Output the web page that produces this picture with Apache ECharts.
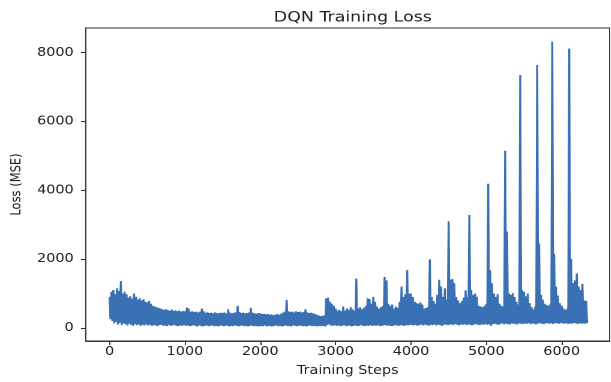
<!DOCTYPE html>
<html>
<head>
<meta charset="utf-8">
<script src="https://cdn.jsdelivr.net/npm/echarts@6/dist/echarts.min.js"></script>
<style>
  html, body { margin: 0; padding: 0; background: #fff; overflow: hidden; }
  /* the reference is a 640x480 figure squeezed to 611x382, so draw narrow and stretch */
  #main { width: 509px; height: 382px; transform: scaleX(1.2); transform-origin: 0 0; }
</style>
</head>
<body>
<div id="main"></div>
<script>
var STEP = 25;   // one high/low pair every 25 training steps

// upper edge of the loss band, steps 0, 25, 50 ... 6325
var lossHigh = [
    900, 1050, 1100, 980, 1150, 1080, 1360, 1000, 1050, 980, 880, 920, 850, 1000, 900, 820, 860, 800, 830, 760,
    740, 780, 700, 640, 620, 600, 580, 560, 540, 520, 540, 510, 500, 530, 490, 510, 480, 500, 470, 490,
    480, 590, 560, 470, 480, 460, 470, 450, 470, 560, 480, 440, 450, 430, 440, 420, 450, 430, 420, 440,
    430, 450, 420, 540, 440, 420, 440, 450, 640, 460, 430, 440, 420, 430, 450, 580, 440, 420, 410, 430,
    420, 400, 410, 390, 400, 380, 390, 370, 380, 400, 380, 410, 440, 470, 815, 480, 460, 470, 450, 480,
    460, 470, 450, 460, 540, 450, 430, 440, 420, 410, 380, 360, 340, 350, 360, 860, 880, 760, 700, 640,
    560, 500, 520, 480, 620, 500, 560, 520, 600, 540, 500, 1430, 560, 600, 540, 580, 640, 860, 840, 700,
    900, 760, 620, 560, 600, 640, 1480, 1380, 700, 640, 680, 560, 620, 580, 760, 1200, 900, 980, 1680, 1000,
    1000, 900, 760, 720, 700, 740, 680, 560, 580, 600, 1990, 900, 780, 700, 960, 1400, 1200, 900, 1150, 820,
    3100, 1400, 1420, 1300, 900, 800, 720, 780, 880, 1090, 900, 3280, 1100, 960, 1000, 900, 640, 620, 600, 640,
    700, 4190, 1680, 1300, 1000, 900, 980, 700, 640, 620, 5150, 2800, 1000, 960, 1010, 900, 760, 680, 7350, 1100,
    1050, 920, 1000, 720, 600, 540, 620, 7640, 2450, 960, 820, 700, 660, 640, 700, 8320, 2150, 1200, 940, 720,
    640, 560, 520, 560, 8120, 2000, 1300, 1380, 1580, 1200, 1100, 1280, 800, 780
];

// lower edge of the band, half a step after each high value
var lossLow = [
    250, 200, 130, 170, 100, 150, 80, 130, 110, 70, 120, 90, 60, 110, 80, 100, 60, 90, 70, 100,
    70, 90, 60, 80, 70, 50, 80, 90, 60, 70, 50, 80, 60, 70, 90, 60, 50, 70, 60, 80,
    60, 70, 50, 60, 80, 60, 40, 70, 60, 40, 60, 70, 50, 60, 70, 50, 60, 40, 60, 70,
    50, 60, 70, 40, 60, 50, 70, 60, 40, 60, 70, 50, 60, 40, 60, 70, 50, 60, 50, 40,
    60, 50, 70, 40, 60, 50, 40, 60, 70, 50, 60, 40, 60, 70, 50, 60, 40, 70, 60, 50,
    60, 70, 50, 60, 40, 60, 70, 50, 60, 50, 40, 60, 50, 60, 40, 80, 100, 70, 60, 80,
    60, 70, 50, 60, 80, 50, 60, 70, 40, 60, 70, 50, 60, 80, 60, 50, 70, 60, 80, 60,
    70, 60, 80, 50, 60, 70, 80, 60, 70, 50, 60, 80, 70, 60, 80, 70, 60, 80, 70, 90,
    80, 70, 90, 60, 80, 100, 70, 90, 80, 60, 90, 80, 100, 70, 90, 80, 60, 90, 100, 80,
    90, 100, 80, 110, 90, 70, 100, 90, 110, 80, 100, 90, 70, 100, 110, 90, 80, 100, 90, 110,
    90, 100, 60, 110, 120, 100, 90, 110, 130, 100, 120, 110, 100, 130, 120, 110, 100, 130, 120, 110,
    130, 120, 140, 110, 130, 120, 100, 130, 140, 120, 110, 130, 140, 120, 130, 110, 140, 130, 120, 140,
    130, 120, 140, 110, 130, 120, 140, 130, 110, 140, 120, 130, 120, 140
];

var xTicks = [0, 1000, 2000, 3000, 4000, 5000, 6000];
var yTicks = [0, 2000, 4000, 6000, 8000];

var lineColor = '#3a71b5';
var inkColor = '#222';
var fontName = 'DejaVu Sans';

var lossData = [];
for (var i = 0; i < lossHigh.length; i++) {
    lossData.push([i * STEP, lossHigh[i]]);
    lossData.push([i * STEP + 12, lossLow[i]]);
}

function plainNum(v) {
    return String(v);
}

var chart = echarts.init(document.getElementById('main'), null, {devicePixelRatio: 2});

var option = {
    animation: false,
    backgroundColor: '#fff',
    title: {
        text: 'DQN Training Loss',
        left: 289,
        textAlign: 'center',
        top: 5,
        textStyle: {fontFamily: fontName, fontSize: 14.5, fontWeight: 'normal', color: inkColor}
    },
    grid: {
        left: 70, right: 1, top: 28, bottom: 37,
        show: true, borderColor: '#333', borderWidth: 1, backgroundColor: 'transparent'
    },
    xAxis: {
        type: 'value',
        min: -316,
        max: 6636,
        name: 'Training Steps',
        nameLocation: 'middle',
        nameGap: 24,
        nameTextStyle: {fontFamily: fontName, fontSize: 12, color: inkColor},
        axisLine: {show: true, onZero: false, lineStyle: {color: '#333', width: 1}},
        axisTick: {show: true, length: 4, customValues: xTicks, lineStyle: {color: '#333'}},
        axisLabel: {customValues: xTicks, formatter: plainNum, margin: 5, fontFamily: fontName, fontSize: 12, color: inkColor},
        splitLine: {show: false}
    },
    yAxis: {
        type: 'value',
        min: -382,
        max: 8718,
        name: 'Loss (MSE)',
        nameLocation: 'middle',
        nameGap: 33,
        nameTextStyle: {fontFamily: fontName, fontSize: 11.5, color: inkColor},
        axisLine: {show: true, onZero: false, lineStyle: {color: '#333', width: 1}},
        axisTick: {show: true, length: 4, customValues: yTicks, lineStyle: {color: '#333'}},
        axisLabel: {customValues: yTicks, formatter: plainNum, margin: 10, fontFamily: fontName, fontSize: 12, color: inkColor},
        splitLine: {show: false}
    },
    series: [{
        name: 'Loss',
        type: 'line',
        data: lossData,
        showSymbol: false,
        symbol: 'none',
        sampling: null,
        lineStyle: {color: lineColor, width: 1.7},
        itemStyle: {color: lineColor}
    }]
};

chart.setOption(option);
</script>
</body>
</html>
